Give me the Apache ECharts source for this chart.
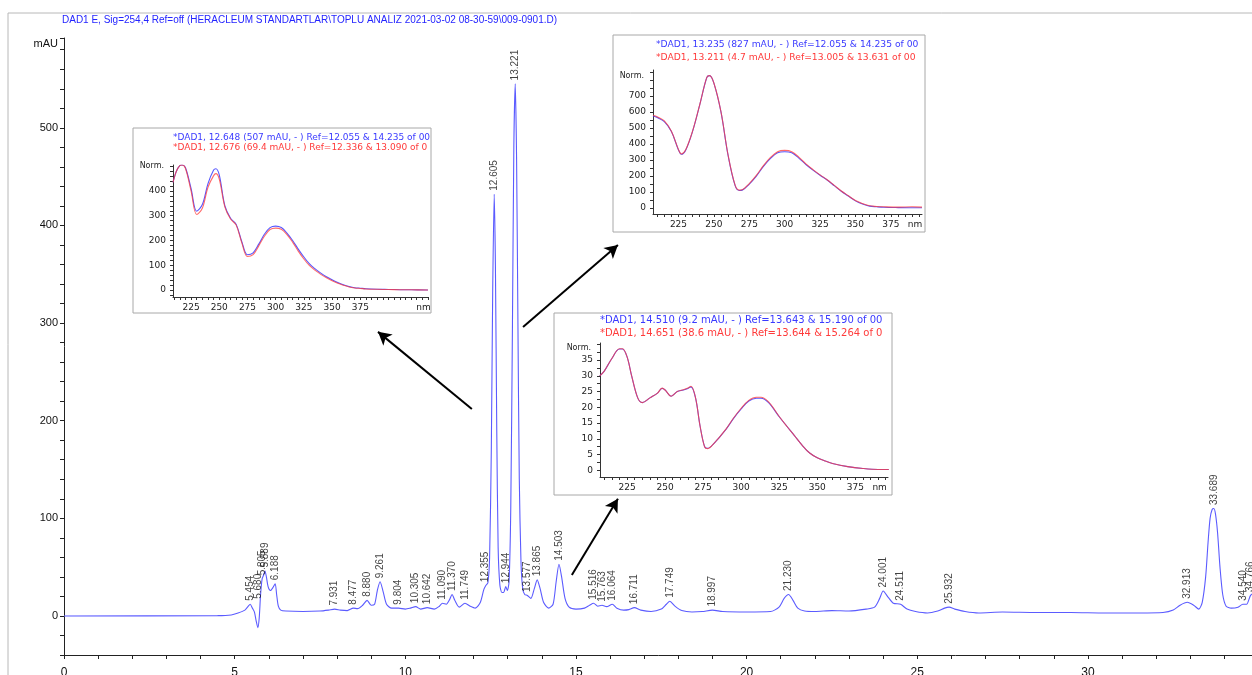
<!DOCTYPE html>
<html>
<head>
<meta charset="utf-8">
<script src="https://cdn.jsdelivr.net/npm/echarts@6/dist/echarts.min.js"></script>
<style>
html,body{margin:0;padding:0;background:#fff;}
#chart{width:1252px;height:675px;}
</style>
</head>
<body>
<div id="chart"></div>
<script>
// ---------- main chromatogram (time in min, signal in mAU) ----------
const chromTime = [0,4.5,4.9,5.1,5.3,5.4,5.454,5.52,5.58,5.63,5.68,5.72,5.76,5.805,5.85,5.889,5.93,5.98,6.05,6.12,6.188,6.23,6.28,6.35,6.5,7.0,7.5,7.75,7.931,8.1,8.3,8.477,8.6,8.75,8.88,9.0,9.1,9.18,9.261,9.35,9.45,9.6,9.804,10.0,10.15,10.305,10.45,10.642,10.85,11.0,11.09,11.2,11.3,11.37,11.45,11.58,11.749,11.9,12.05,12.2,12.3,12.355,12.42,12.47,12.52,12.56,12.605,12.64,12.68,12.72,12.77,12.83,12.88,12.944,12.99,13.04,13.09,13.14,13.18,13.221,13.26,13.3,13.34,13.39,13.44,13.5,13.577,13.68,13.78,13.865,13.95,14.05,14.2,14.33,14.42,14.503,14.58,14.68,14.8,15.0,15.25,15.4,15.516,15.64,15.763,15.9,16.064,16.2,16.4,16.55,16.711,16.9,17.2,17.5,17.65,17.749,17.9,18.1,18.4,18.7,18.997,19.3,20.0,20.7,20.95,21.1,21.23,21.36,21.5,21.7,22.0,22.5,23.0,23.5,23.75,23.9,24.001,24.15,24.3,24.511,24.7,24.95,25.3,25.6,25.8,25.932,26.1,26.4,26.8,27.5,28.5,29.5,30.5,31.5,32.2,32.5,32.7,32.913,33.1,33.25,33.35,33.45,33.52,33.58,33.64,33.689,33.74,33.8,33.87,33.95,34.05,34.2,34.4,34.54,34.65,34.766,34.9,35.1,35.5];
const chromSignal = [0,0.3,1,3,6,10,12,8,4,-5,-12,-2,22,38,42,46,40,30,26,29,33,22,10,6,5,4.5,5,6,7,6,5.5,8,7.5,11,16,11,12,26,35,25,12,8,8,7,8,9.5,7,8.5,7,10,13,12,17,22,16,9,13,10,8,14,27,31,34,60,170,330,432,360,190,70,32,24,24,30,26,35,110,300,480,545,470,300,140,55,28,22,21,18,28,37,28,14,8,12,35,53,40,18,9,7,8,11,13,10,11,9.5,12,8,6,6.5,8.5,6,4.5,7,12,15,10,5.5,4,4.5,6,4.5,4,4.5,9,18,22,16,8,5,4.5,5.5,5,7,9,18,25.5,19,13,12,7,4.5,3,5,8,9,7,4.5,3,4,3.5,3.5,3,3,3.5,6,11,14,11,7,14,40,75,100,109,110,104,85,50,22,10,8,9,12,12,21,24,26,25];

// integrated peaks: retention time and height where its label sits (mAU)
const peakTimes = [5.454,5.680,5.805,5.889,6.188,7.931,8.477,8.880,9.261,9.804,10.305,10.642,11.090,11.370,11.749,12.355,12.605,12.944,13.221,13.577,13.865,14.503,15.516,15.763,16.064,16.711,17.749,18.997,21.230,24.001,24.511,25.932,32.913,33.689,34.540,34.766];
const peakLabelHeights = [12,14,38,46,33,7,8,16,35,8,9.5,8.5,13,22,13,31,432,30,545,21,37,53,13,11,12,8.5,15,6,22,25.5,12,9,14,110,12,21];

// main axis tick labels
const mainYLabels = [0,100,200,300,400,500];
const mainXLabels = [0,5,10,15,20,25,30,35];

// ---------- UV spectra insets (wavelength nm, Norm.) ----------
const spec1Wl   = [209,212,215,217,220,225,230,235,240,245,247,250,255,260,265,270,275,280,285,290,295,300,305,310,315,320,325,330,335,340,345,350,355,360,365,370,375,380,390,400,410,420,435];
const spec1Blue = [435,480,502,505,495,410,318,345,430,485,490,465,340,290,265,195,142,150,185,225,252,258,252,230,200,165,133,105,85,68,53,41,30,21,14,9,7,5,3,2,1,0.5,0];
const spec1Red  = [435,480,502,505,492,400,305,330,415,462,470,448,335,287,262,190,135,143,178,217,244,250,245,224,193,157,125,98,79,63,49,37,27,19,12,8,6,4,2.5,1.5,1,0.5,0];
const spec1Title = ['*DAD1, 12.648 (507 mAU, - ) Ref=12.055 & 14.235 of 00', '*DAD1, 12.676 (69.4 mAU, - ) Ref=12.336 & 13.090 of 0'];

const spec2Wl   = [207,210,215,220,225,227,230,235,240,245,247,250,255,260,265,268,270,275,280,285,290,295,300,305,310,315,320,325,330,335,340,345,350,355,360,365,370,380,390,397];
const spec2Blue = [575,565,540,478,363,336,360,480,644,815,827,780,600,330,140,110,112,150,200,260,310,345,352,345,312,272,237,205,175,140,105,75,45,25,12,8,5,3,2,2];
const spec2Red  = [580,570,545,480,365,338,362,482,645,816,827,781,602,333,143,112,114,153,204,265,316,352,360,352,318,276,240,207,177,142,107,77,47,28,14,10,8,6,8,6];
const spec2Title = ['*DAD1, 13.235 (827 mAU, - ) Ref=12.055 & 14.235 of 00', '*DAD1, 13.211 (4.7 mAU, - ) Ref=13.005 & 13.631 of 00'];

const spec3Wl   = [207,210,215,220,222,225,228,232,235,240,245,248,250,254,258,262,265,267,270,273,276,278,282,290,295,300,305,310,313,318,325,330,335,340,345,350,355,360,370,380,390,397];
const spec3Blue = [30,31.5,35.5,38.5,38.5,36,30,23,21.5,23,24.5,26,25.5,23.5,25,25.5,26,26.5,23,14,7.5,7,8.5,13,16.5,19.5,22,22.9,22.9,21.5,17,14,11,8,5.5,4,3,2.2,1.2,0.6,0.3,0.3];
const spec3Red  = [30,31.5,35.5,38.6,38.6,36,30,23,21.5,23,24.5,26.1,25.5,23.5,25,25.6,26.1,26.7,23,14,7.4,6.9,8.5,13.1,16.6,19.7,22.2,23.2,23.2,21.7,17.1,14,11,8,5.5,4,3,2.2,1.2,0.6,0.3,0.3];
const spec3Title = ['*DAD1, 14.510 (9.2 mAU, - ) Ref=13.643 & 15.190 of 00', '*DAD1, 14.651 (38.6 mAU, - ) Ref=13.644 & 15.264 of 0'];

const specXLabels = [225,250,275,300,325,350,375];

// annotation arrows in chromatogram coordinates [tail, head]
const arrows = [
  [[11.95, 212], [9.20, 291]],
  [[13.45, 296], [16.23, 380]],
  [[14.88, 42],  [16.23, 120]]
];

const title = 'DAD1 E, Sig=254,4 Ref=off (HERACLEUM STANDARTLAR\\TOPLU ANALIZ 2021-03-02 08-30-59\\009-0901.D)';

// ---------- build ----------
const zip = (a, b) => a.map((v, i) => [v, b[i]]);
const range = (a, b, s) => { const r = []; for (let v = a; v <= b + 1e-9; v += s) r.push(+v.toFixed(4)); return r; };

const NARROW = '"Liberation Sans Narrow","Arial Narrow","Liberation Sans",sans-serif';
const DV = '"DejaVu Sans",Verdana,sans-serif';
const BLUE = '#3a3aff', RED = '#ff3a3a', TRACE = '#5b5bff';

const insets = [
  { box:[133,128,298,185], grid:{left:173, top:165, width:255, height:132}, x:[209,435], y:[-28.6,505],
    yLabels:[0,100,200,300,400], yTicks:range(-20,500,20), xTicks:range(210,435,5), nm:431, nameGap:-1,
    wl:spec1Wl, blue:spec1Blue, red:spec1Red, titles:spec1Title, tx:173, ty:[138,148], font:9 },
  { box:[613,35,312,197], grid:{left:653, top:70, width:269, height:144}, x:[207,397], y:[-37,862],
    yLabels:[0,100,200,300,400,500,600,700], yTicks:range(0,850,50), xTicks:range(210,395,5), nm:392, nameGap:-6,
    wl:spec2Wl, blue:spec2Blue, red:spec2Red, titles:spec2Title, tx:656, ty:[45,58], font:9.2 },
  { box:[554,313,338,182], grid:{left:600, top:343, width:288, height:134}, x:[207.2,396.5], y:[-2.1,40.4],
    yLabels:[0,5,10,15,20,25,30,35], yTicks:range(0,40,2.5), xTicks:range(210,395,5), nm:391, nameGap:-5,
    wl:spec3Wl, blue:spec3Blue, red:spec3Red, titles:spec3Title, tx:600, ty:[320,333], font:10 }
];

const grids = [{ left:64, top:38, width:36*34.13, height:617, containLabel:false, outerBoundsMode:'none' }];
const xAxes = [{
  type:'value', gridIndex:0, min:0, max:36, interval:1,
  axisLine:{show:true, onZero:false, lineStyle:{color:'#222', width:1}},
  axisTick:{show:true, length:4, lineStyle:{color:'#222'}},
  axisLabel:{show:true, margin:12, color:'#111', fontFamily:NARROW, fontSize:12,
    formatter: v => mainXLabels.includes(v) ? String(v) : ''},
  splitLine:{show:false}
}];
const yAxes = [{
  type:'value', gridIndex:0, min:-40, max:592, interval:20,
  name:'mAU', nameLocation:'end', nameGap:-6,
  nameTextStyle:{color:'#111', fontFamily:NARROW, fontSize:11, align:'right', verticalAlign:'middle', padding:[0,6,0,0]},
  axisLine:{show:true, lineStyle:{color:'#222', width:1}},
  axisTick:{show:true, length:4, lineStyle:{color:'#222'}},
  axisLabel:{show:true, margin:6, color:'#111', fontFamily:NARROW, fontSize:11,
    formatter: v => mainYLabels.includes(v) ? String(v) : ''},
  splitLine:{show:false}
}];

const series = [
  { type:'line', xAxisIndex:0, yAxisIndex:0, data:zip(chromTime, chromSignal), showSymbol:false,
    smooth:0.25, lineStyle:{color:TRACE, width:1.1}, z:2, silent:true,
    markLine:{ silent:true, symbol:['none','arrow'], symbolSize:[11,13], precision:3,
      label:{show:false}, lineStyle:{color:'#000', width:2, type:'solid'},
      data: arrows.map(a => [{coord:a[0]}, {coord:a[1]}]) } },
  { type:'scatter', xAxisIndex:0, yAxisIndex:0, data:zip(peakTimes, peakLabelHeights),
    symbolSize:1, itemStyle:{color:'rgba(0,0,0,0)'}, z:3, silent:true,
    label:{show:true, position:'top', distance:3, rotate:90, align:'left', verticalAlign:'middle',
      color:'#111', fontFamily:NARROW, fontSize:10,
      formatter: p => peakTimes[p.dataIndex].toFixed(3)} }
];

const graphics = [
  { type:'rect', shape:{x:8, y:13, width:1300, height:700}, style:{fill:'none', stroke:'#b8b8b8', lineWidth:1}, z:0, silent:true },
  { type:'text', x:62, y:15, style:{text:title, fill:'#2424ff', font:'10px '+NARROW}, z:1, silent:true }
];

insets.forEach((ins, k) => {
  const gi = k + 1;
  grids.push(Object.assign({}, ins.grid, {containLabel:false, outerBoundsMode:'none'}));
  xAxes.push({
    type:'value', gridIndex:gi, min:ins.x[0], max:ins.x[1], z:10,
    axisLine:{show:true, onZero:false, lineStyle:{color:'#333'}},
    axisTick:{show:true, length:3, customValues:ins.xTicks, lineStyle:{color:'#333'}},
    axisLabel:{show:true, margin:6, color:'#222', fontFamily:DV, fontSize:9,
      customValues: specXLabels.concat([ins.nm]),
      formatter: v => v === ins.nm ? 'nm' : String(v)},
    splitLine:{show:false}
  });
  yAxes.push({
    type:'value', gridIndex:gi, min:ins.y[0], max:ins.y[1], z:10,
    name:'Norm.', nameLocation:'end', nameGap:ins.nameGap,
    nameTextStyle:{color:'#222', fontFamily:DV, fontSize:8, align:'right', verticalAlign:'middle', padding:[0,9,0,0]},
    axisLine:{show:true, lineStyle:{color:'#333'}},
    axisTick:{show:true, length:3, customValues:ins.yTicks, lineStyle:{color:'#333'}},
    axisLabel:{show:true, margin:7, color:'#222', fontFamily:DV, fontSize:9, customValues:ins.yLabels},
    splitLine:{show:false}
  });
  series.push({ type:'line', xAxisIndex:gi, yAxisIndex:gi, data:zip(ins.wl, ins.blue), showSymbol:false,
    smooth:0.35, lineStyle:{color:BLUE, width:1.1, opacity:0.85}, z:11, silent:true });
  series.push({ type:'line', xAxisIndex:gi, yAxisIndex:gi, data:zip(ins.wl, ins.red), showSymbol:false,
    smooth:0.35, lineStyle:{color:RED, width:1.1, opacity:0.75}, z:12, silent:true });
  graphics.push({ type:'rect', shape:{x:ins.box[0], y:ins.box[1], width:ins.box[2], height:ins.box[3]},
    style:{fill:'#fff', stroke:'#a8a8a8', lineWidth:1}, z:5, silent:true });
  graphics.push({ type:'text', x:ins.tx, y:ins.ty[0], style:{text:ins.titles[0], fill:BLUE, font:ins.font+'px '+DV,
    verticalAlign:'middle'}, z:6, silent:true });
  graphics.push({ type:'text', x:ins.tx, y:ins.ty[1], style:{text:ins.titles[1], fill:RED, font:ins.font+'px '+DV,
    verticalAlign:'middle'}, z:6, silent:true });
});

const chart = echarts.init(document.getElementById('chart'), null, {renderer:'canvas'});
chart.setOption({
  animation:false,
  backgroundColor:'#fff',
  grid:grids, xAxis:xAxes, yAxis:yAxes, series:series, graphic:graphics
});
</script>
</body>
</html>
